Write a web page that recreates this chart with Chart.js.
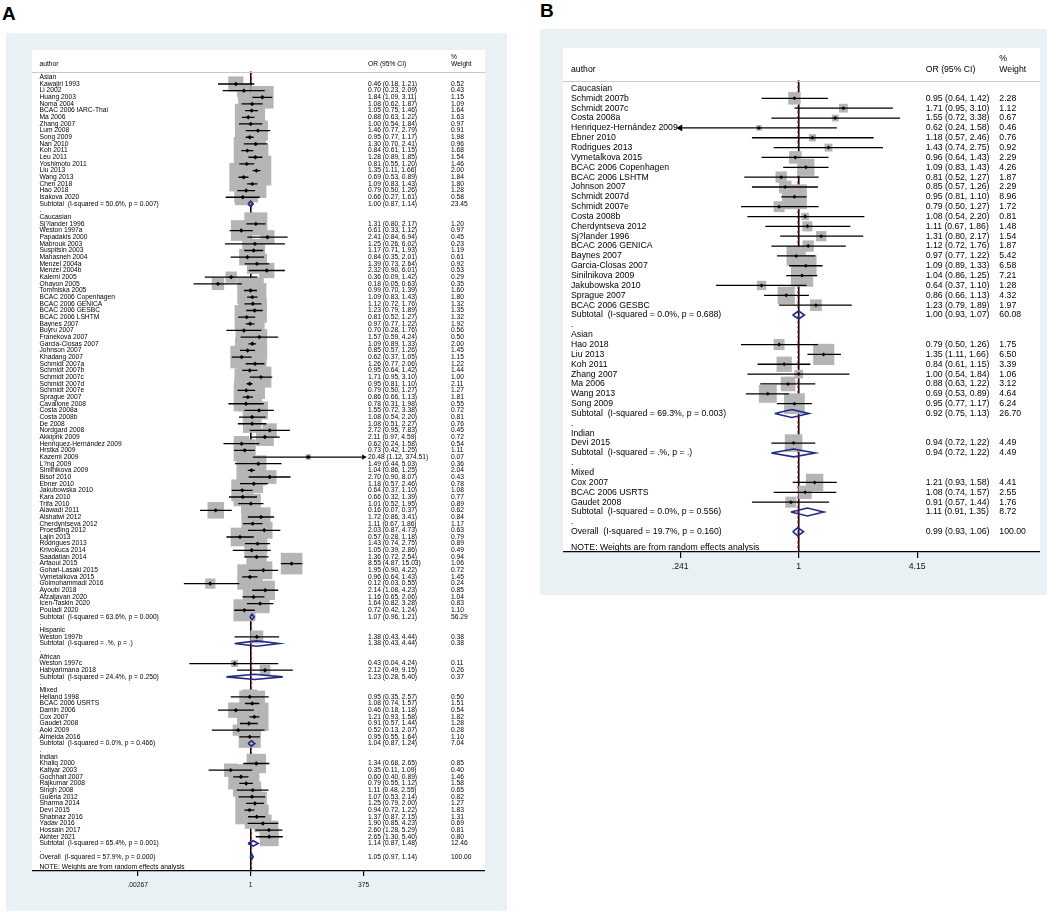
<!DOCTYPE html>
<html><head><meta charset="utf-8">
<script src="https://cdn.jsdelivr.net/npm/chart.js@4.4.1/dist/chart.umd.min.js"></script>
<style>
html,body{margin:0;padding:0;background:#fff;width:1059px;height:912px;overflow:hidden;font-family:"Liberation Sans",Arial,sans-serif;}
.lbl{position:absolute;font-weight:bold;font-size:19px;line-height:1;color:#000;font-family:"Liberation Sans",Arial,sans-serif;}
.bg{position:absolute;background:#e9f1f4;}
canvas{position:absolute;}
</style></head><body>
<div class="lbl" style="left:2px;top:4px">A</div>
<div class="lbl" style="left:540px;top:1px">B</div>
<div class="bg" style="left:6px;top:33px;width:501px;height:878px"></div>
<div class="bg" style="left:540px;top:29px;width:507px;height:566px"></div>
<canvas id="ca" width="453" height="861" style="left:32px;top:50px;width:453px;height:861px"></canvas>
<canvas id="cb" width="477" height="547" style="left:563px;top:48px;width:477px;height:547px"></canvas>
<script>
// ---------------- Panel A data ----------------
const aNames = [
"Asian","Kawajiri 1993","Li 2002","Huang 2003","Noma 2004","BCAC 2006 IARC-Thai","Ma 2006","Zhang 2007","Lum 2008","Song 2009","Nan 2010","Koh 2011","Leu 2011","Yoshimoto 2011","Liu 2013","Wang 2013","Chen 2018","Hao 2018","Isakova 2020","Subtotal  (I-squared = 50.6%, p = 0.007)",".",
"Caucasian","Sj?lander 1996","Weston 1997a","Papadakis 2000","Mabrouk 2003","Suspitsin 2003","Mahasneh 2004","Menzel 2004a","Menzel 2004b","Kalemi 2005","Ohayon 2005","Tommiska 2005","BCAC 2006 Copenhagen","BCAC 2006 GENICA","BCAC 2006 GESBC","BCAC 2006 LSHTM","Baynes 2007","Buyru 2007","Franeková 2007","Garcia-Closas 2007","Johnson 2007","Khadang 2007","Schmidt 2007a","Schmidt 2007b","Schmidt 2007c","Schmidt 2007d","Schmidt 2007e","Sprague 2007","Cavallone 2008","Costa 2008a","Costa 2008b","De 2008","Nordgard 2008","Akkiprik 2009","Henriquez-Hernández 2009","Hrstka 2009","Kazemi 2009","L?ng 2009","Sinilnikova 2009","Bisof 2010","Ebner 2010","Jakubowska 2010","Kara 2010","Trifa 2010","Alawadi 2011","Alshatwi 2012","Cherdyntseva 2012","Proestling 2012","Lajin 2013","Rodrigues 2013","Krivokuca 2014","Saadatian 2014","Arfaoui 2015","Gohari-Lasaki 2015","Vymetalkova 2015","Golmohammadi 2016","Ayoubi 2018","Afzaljavan 2020","Icen-Taskin 2020","Pouladi 2020","Subtotal  (I-squared = 63.6%, p = 0.000)",".",
"Hispanic","Weston 1997b","Subtotal  (I-squared = .%, p = .)",".",
"African","Weston 1997c","Habyarimana 2018","Subtotal  (I-squared = 24.4%, p = 0.250)",".",
"Mixed","Helland 1998","BCAC 2006 USRTS","Damin 2006","Cox 2007","Gaudet 2008","Aoki 2009","Almeida 2016","Subtotal  (I-squared = 0.0%, p = 0.466)",".",
"Indian","Khaliq 2000","Katiyar 2003","Gochhait 2007","Rajkumar 2008","Singh 2008","Guleria 2012","Sharma 2014","Devi 2015","Shabnaz 2016","Yadav 2016","Hossain 2017","Akhter 2021","Subtotal  (I-squared = 65.4%, p = 0.001)",".",
"Overall  (I-squared = 57.9%, p = 0.000)"
];
const aOR = [
null,0.46,0.70,1.84,1.08,1.05,0.88,1.00,1.46,0.95,1.30,0.84,1.28,0.81,1.35,0.69,1.09,0.79,0.66,1.00,null,
null,1.31,0.61,2.41,1.25,1.17,0.84,1.39,2.32,0.36,0.18,0.99,1.09,1.12,1.23,0.81,0.97,0.70,1.57,1.09,0.85,0.62,1.26,0.95,1.71,0.95,0.79,0.86,0.78,1.55,1.08,1.08,2.72,2.11,0.62,0.73,20.48,1.49,1.04,2.70,1.18,0.64,0.66,1.01,0.16,1.72,1.11,2.03,0.57,1.43,1.05,1.36,8.55,1.95,0.96,0.12,2.14,1.16,1.64,0.72,1.07,null,
null,1.38,1.38,null,
null,0.43,2.12,1.23,null,
null,0.95,1.08,0.46,1.21,0.91,0.52,0.95,1.04,null,
null,1.34,0.35,0.60,0.79,1.11,1.07,1.25,0.94,1.37,1.90,2.60,2.65,1.14,null,
1.05];
const aLo = [
null,0.18,0.23,1.09,0.62,0.75,0.63,0.54,0.77,0.77,0.70,0.61,0.89,0.55,1.11,0.53,0.83,0.50,0.27,0.87,null,
null,0.80,0.33,0.84,0.26,0.71,0.35,0.73,0.90,0.09,0.05,0.70,0.83,0.72,0.79,0.52,0.77,0.28,0.59,0.89,0.57,0.37,0.77,0.64,0.95,0.81,0.50,0.66,0.31,0.72,0.54,0.51,0.95,0.97,0.24,0.42,1.12,0.44,0.86,0.90,0.57,0.37,0.32,0.52,0.07,0.86,0.67,0.87,0.28,0.74,0.39,0.72,4.87,0.90,0.64,0.03,1.08,0.65,0.82,0.42,0.96,null,
null,0.43,0.43,null,
null,0.04,0.49,0.28,null,
null,0.35,0.74,0.18,0.93,0.57,0.13,0.55,0.87,null,
null,0.68,0.11,0.40,0.55,0.48,0.53,0.79,0.72,0.87,0.85,1.28,1.30,0.87,null,
0.97];
const aHi = [
null,1.21,2.09,3.11,1.87,1.46,1.22,1.84,2.79,1.17,2.41,1.15,1.85,1.20,1.66,0.89,1.43,1.26,1.61,1.14,null,
null,2.17,1.12,6.94,6.02,1.93,2.01,2.64,6.01,1.42,0.63,1.39,1.43,1.76,1.89,1.27,1.22,1.76,4.24,1.33,1.26,1.05,2.06,1.42,3.10,1.10,1.27,1.13,1.98,3.38,2.20,2.27,7.83,4.59,1.58,1.25,374.51,5.03,1.25,8.07,2.46,1.10,1.39,1.95,0.37,3.41,1.86,4.73,1.18,2.75,2.86,2.54,15.03,4.22,1.43,0.55,4.23,2.06,3.28,1.24,1.21,null,
null,4.44,4.44,null,
null,4.24,9.15,5.40,null,
null,2.57,1.57,1.18,1.58,1.44,2.07,1.64,1.24,null,
null,2.65,1.09,0.89,1.12,2.55,2.14,2.00,1.22,2.15,4.23,5.29,5.40,1.48,null,
1.14];
const aWeight = [
null,0.52,0.43,1.15,1.09,1.64,1.63,0.97,0.91,1.98,0.96,1.68,1.54,1.46,2.00,1.84,1.80,1.28,0.58,23.45,null,
null,1.20,0.97,0.45,0.23,1.19,0.61,0.92,0.53,0.29,0.35,1.60,1.80,1.32,1.35,1.32,1.92,0.56,0.50,2.00,1.45,1.15,1.22,1.44,1.00,2.11,1.27,1.81,0.55,0.72,0.81,0.76,0.45,0.72,0.54,1.11,0.07,0.36,2.04,0.43,0.78,1.08,0.77,0.89,0.62,0.84,1.17,0.63,0.79,0.89,0.49,0.94,1.06,0.72,1.45,0.24,0.85,1.04,0.83,1.10,56.29,null,
null,0.38,0.38,null,
null,0.11,0.26,0.37,null,
null,0.50,1.51,0.54,1.82,1.28,0.28,1.10,7.04,null,
null,0.85,0.40,1.46,1.58,0.65,0.82,1.27,1.83,1.31,0.69,0.81,0.80,12.46,null,
100.00];
const aTickValues = [0.00267, 1, 375];
const aTickLabels = [".00267", "1", "375"];

// ---------------- Panel B data ----------------
const bNames = [
"Caucasian","Schmidt 2007b","Schmidt 2007c","Costa 2008a","Henriquez-Hernández 2009","Ebner 2010","Rodrigues 2013","Vymetalkova 2015","BCAC 2006 Copenhagen","BCAC 2006 LSHTM","Johnson 2007","Schmidt 2007d","Schmidt 2007e","Costa 2008b","Cherdyntseva 2012","Sj?lander 1996","BCAC 2006 GENICA","Baynes 2007","Garcia-Closas 2007","Sinilnikova 2009","Jakubowska 2010","Sprague 2007","BCAC 2006 GESBC","Subtotal  (I-squared = 0.0%, p = 0.688)",".",
"Asian","Hao 2018","Liu 2013","Koh 2011","Zhang 2007","Ma 2006","Wang 2013","Song 2009","Subtotal  (I-squared = 69.3%, p = 0.003)",".",
"Indian","Devi 2015","Subtotal  (I-squared = .%, p = .)",".",
"Mixed","Cox 2007","BCAC 2006 USRTS","Gaudet 2008","Subtotal  (I-squared = 0.0%, p = 0.556)",".",
"Overall  (I-squared = 19.7%, p = 0.160)"
];
const bOR = [null,0.95,1.71,1.55,0.62,1.18,1.43,0.96,1.09,0.81,0.85,0.95,0.79,1.08,1.11,1.31,1.12,0.97,1.09,1.04,0.64,0.86,1.23,1.00,null,
null,0.79,1.35,0.84,1.00,0.88,0.69,0.95,0.92,null,
null,0.94,0.94,null,
null,1.21,1.08,0.91,1.11,null,
0.99];
const bLo = [null,0.64,0.95,0.72,0.24,0.57,0.74,0.64,0.83,0.52,0.57,0.81,0.50,0.54,0.67,0.80,0.72,0.77,0.89,0.86,0.37,0.66,0.79,0.93,null,
null,0.50,1.11,0.61,0.54,0.63,0.53,0.77,0.75,null,
null,0.72,0.72,null,
null,0.93,0.74,0.57,0.91,null,
0.93];
const bHi = [null,1.42,3.10,3.38,1.58,2.46,2.75,1.43,1.43,1.27,1.26,1.10,1.27,2.20,1.86,2.17,1.76,1.22,1.33,1.25,1.10,1.13,1.89,1.07,null,
null,1.26,1.66,1.15,1.84,1.22,0.89,1.17,1.13,null,
null,1.22,1.22,null,
null,1.58,1.57,1.44,1.35,null,
1.06];
const bWeight = [null,2.28,1.12,0.67,0.46,0.76,0.92,2.29,4.26,1.87,2.29,8.96,1.72,0.81,1.48,1.54,1.87,5.42,6.58,7.21,1.28,4.32,1.97,60.08,null,
null,1.75,6.50,3.39,1.06,3.12,4.64,6.24,26.70,null,
null,4.49,4.49,null,
null,4.41,2.55,1.76,8.72,null,
100.00];
const bTickValues = [0.241, 1, 4.15];
const bTickLabels = [".241", "1", "4.15"];

const FONT = '"Liberation Sans", Arial, sans-serif';

function buildPanel(canvasId, names, or, lo, hi, w, tickVals, tickLabels, cfg) {
  const n = names.length;
  const tMin = tickVals[0], tMax = tickVals[tickVals.length - 1];
  const boxes = [], marks = [], ci = [], dia = [], arrows = [];
  for (let i = 0; i < n; i++) {
    if (or[i] == null) continue;
    const isSum = names[i].startsWith('Subtotal') || names[i].startsWith('Overall');
    if (isSum) {
      dia.push({x: lo[i], y: i}, {x: or[i], y: i - cfg.dh}, {x: hi[i], y: i}, {x: or[i], y: i + cfg.dh}, {x: lo[i], y: i}, {x: NaN, y: NaN});
    } else {
      boxes.push({x: or[i], y: i, w: w[i]});
      marks.push({x: or[i], y: i});
      const l = Math.max(lo[i], tMin), h = Math.min(hi[i], tMax);
      ci.push({x: l, y: i}, {x: h, y: i}, {x: NaN, y: NaN});
      if (lo[i] < tMin) arrows.push({x: l, y: i, dir: -90});
      if (hi[i] >= 0.99 * tMax) arrows.push({x: h, y: i, dir: 90});
    }
  }
  const overall = or[n - 1];
  const nullLine = [{x: 1, y: cfg.lineTop}, {x: 1, y: cfg.yMax}];
  const ovLine = [{x: overall, y: cfg.lineTop}, {x: overall, y: cfg.yMax}];

  const plugin = {
    id: 'forest_' + canvasId,
    beforeDraw(chart) {
      const {ctx, chartArea: ca} = chart;
      ctx.save();
      ctx.fillStyle = '#ffffff';
      ctx.fillRect(ca.left, ca.top, ca.right - ca.left, ca.bottom - ca.top);
      ctx.restore();
    },
    afterDraw(chart) {
      const {ctx, chartArea: ca, scales: {y}} = chart;
      ctx.save();
      ctx.font = cfg.fs + 'px ' + FONT;
      ctx.fillStyle = '#000';
      ctx.textBaseline = 'middle';
      ctx.textAlign = 'left';
      const cA = ca.left + cfg.cols[0], cO = ca.left + cfg.cols[1], cW = ca.left + cfg.cols[2];
      ctx.fillText('author', cA, y.getPixelForValue(cfg.headRow));
      ctx.fillText('OR (95% CI)', cO, y.getPixelForValue(cfg.headRow));
      ctx.fillText('%', cW, y.getPixelForValue(cfg.pctRow));
      ctx.fillText('Weight', cW, y.getPixelForValue(cfg.headRow));
      for (let i = 0; i < n; i++) {
        const py = y.getPixelForValue(i);
        ctx.fillText(names[i], cA, py);
        if (or[i] != null) {
          ctx.fillText(or[i].toFixed(2) + ' (' + lo[i].toFixed(2) + ', ' + hi[i].toFixed(2) + ')', cO, py);
          ctx.fillText(w[i].toFixed(2), cW, py);
        }
      }
      ctx.fillText('NOTE: Weights are from random effects analysis', cA, y.getPixelForValue(cfg.noteRow));
      const ly = Math.round(y.getPixelForValue(cfg.lineTop)) + 0.5;
      ctx.strokeStyle = '#c9c9c9';
      ctx.lineWidth = 1;
      ctx.beginPath(); ctx.moveTo(ca.left, ly); ctx.lineTo(ca.right, ly); ctx.stroke();
      ctx.restore();
    }
  };

  return new Chart(document.getElementById(canvasId), {
    type: 'scatter',
    data: {
      datasets: [
        {type: 'line', data: nullLine, borderColor: '#000', borderWidth: 1, pointRadius: 0, order: 6},
        {type: 'line', data: ovLine, borderColor: '#d01c1c', borderWidth: 1, borderDash: [3, 2], pointRadius: 0, order: 5},
        {type: 'scatter', data: boxes, pointStyle: 'rect', backgroundColor: '#b5b5b5', borderWidth: 0,
         pointRadius: c => (c.raw ? cfg.boxK * Math.sqrt(c.raw.w) / Math.SQRT2 : 0), order: 4},
        {type: 'line', data: ci, borderColor: '#000', borderWidth: cfg.ciW, pointRadius: 0, spanGaps: false, order: 3},
        {type: 'line', data: dia, borderColor: '#1f2a88', borderWidth: cfg.diaW, pointRadius: 0, spanGaps: false, order: 2},
        {type: 'scatter', data: marks, pointStyle: 'rectRot', backgroundColor: '#000', borderWidth: 0, pointRadius: cfg.mr, order: 1},
        {type: 'scatter', data: arrows, pointStyle: 'triangle', rotation: c => (c.raw ? c.raw.dir : 0),
         backgroundColor: '#000', borderWidth: 0, pointRadius: cfg.ar, order: 1}
      ]
    },
    options: {
      responsive: false, maintainAspectRatio: false, animation: false, events: [],
      layout: {padding: 0, autoPadding: false},
      plugins: {legend: {display: false}, tooltip: {enabled: false}},
      scales: {
        x: {
          type: 'logarithmic', position: 'bottom', min: cfg.xMin, max: cfg.xMax,
          afterBuildTicks: s => { s.ticks = tickVals.map(v => ({value: v})); },
          afterFit: s => { s.height = cfg.axisH; },
          ticks: {autoSkip: false, maxRotation: 0, minRotation: 0, padding: cfg.tickPad, color: '#111',
                  font: {family: FONT, size: cfg.fs},
                  callback: v => { const k = tickVals.indexOf(v); return k >= 0 ? tickLabels[k] : ''; }},
          grid: {drawOnChartArea: false, drawTicks: true, tickLength: cfg.tickLen, color: '#000', lineWidth: 1.2},
          border: {display: true, color: '#000', width: 1.2}
        },
        y: {type: 'linear', reverse: true, min: cfg.yMin, max: cfg.yMax, display: false}
      }
    },
    plugins: [plugin]
  });
}

buildPanel('ca', aNames, aOR, aLo, aHi, aWeight, aTickValues, aTickLabels, {
  xMin: 1.044e-5, xMax: 2.173e5, yMin: -4.1, yMax: 119.14,
  fs: 6.7, axisH: 40, tickLen: 5, tickPad: 5, boxK: 21, mr: 2.2, ar: 3, ciW: 1.3, diaW: 1.6, dh: 0.4,
  cols: [7.5, 336, 419], headRow: -1.95, pctRow: -3.09, lineTop: -0.84, noteRow: 118.6
});
buildPanel('cb', bNames, bOR, bLo, bHi, bWeight, bTickValues, bTickLabels, {
  xMin: 0.05896, xMax: 18.13, yMin: -4.11, yMax: 47.06,
  fs: 8.7, axisH: 43, tickLen: 6, tickPad: 3.5, boxK: 8.3, mr: 2, ar: 4, ciW: 1.3, diaW: 1.6, dh: 0.4,
  cols: [8, 362.7, 436.3], headRow: -1.9, pctRow: -3.07, lineTop: -0.8, noteRow: 46.58
});
</script>
</body></html>
